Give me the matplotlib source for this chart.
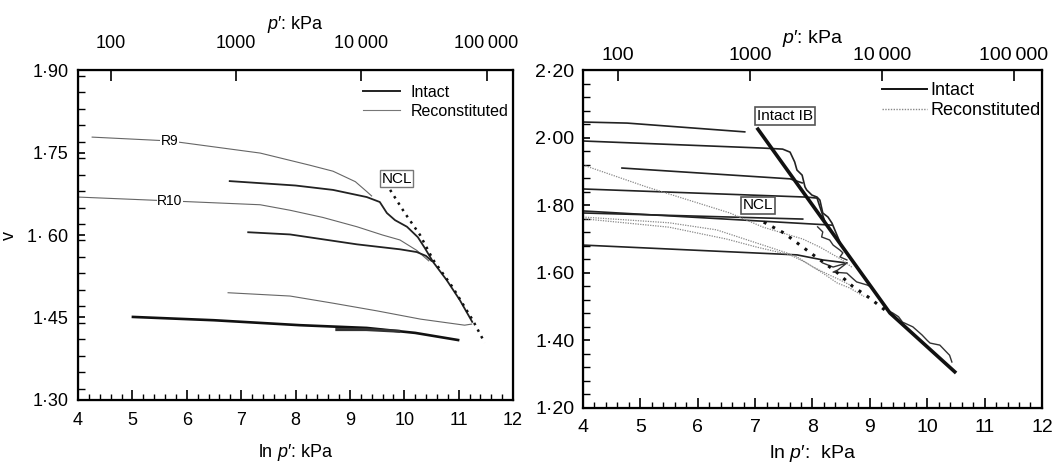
import numpy as np
import matplotlib
matplotlib.use('Agg')
import matplotlib.pyplot as plt
from matplotlib.ticker import MultipleLocator, NullLocator, FixedLocator
from matplotlib.lines import Line2D

plt.rcParams['font.family'] = ['Liberation Sans', 'DejaVu Sans']
plt.rcParams['mathtext.fontset'] = 'custom'
plt.rcParams['mathtext.rm'] = 'Liberation Sans'
plt.rcParams['mathtext.it'] = 'Liberation Sans:italic'

# ---- left panel data (ln p', v) ----
r9_x = [4.26, 5.69, 7.35, 8.26, 8.69, 9.10, 9.31, 9.40]
r9_y = [1.778, 1.771, 1.749, 1.727, 1.716, 1.697, 1.679, 1.671]
r10_x = [4.0, 5.69, 7.35, 7.90, 8.50, 9.13, 9.60, 9.92, 10.23, 10.45]
r10_y = [1.669, 1.662, 1.655, 1.645, 1.632, 1.615, 1.600, 1.591, 1.572, 1.553]
b_x = [6.79, 8.00, 8.69, 9.31, 9.55, 9.68, 9.83, 10.05, 10.25, 10.38, 10.53, 10.78, 11.02, 11.25]
b_y = [1.698, 1.690, 1.682, 1.669, 1.660, 1.640, 1.627, 1.615, 1.596, 1.576, 1.551, 1.518, 1.482, 1.442]
c_x = [7.13, 7.90, 9.13, 9.92, 10.23, 10.40, 10.50]
c_y = [1.605, 1.601, 1.583, 1.574, 1.569, 1.562, 1.553]
d_x = [6.76, 7.90, 8.69, 9.50, 10.30, 11.11, 11.24]
d_y = [1.495, 1.489, 1.476, 1.462, 1.447, 1.436, 1.438]
e_x = [5.01, 6.50, 8.08, 9.31, 10.20, 10.99]
e_y = [1.451, 1.445, 1.436, 1.431, 1.422, 1.409]
f_x = [8.76, 9.30, 9.90]
f_y = [1.428, 1.428, 1.425]
ncl_l_x = [9.74, 10.01, 10.29, 10.53, 10.89, 11.26, 11.48]
ncl_l_y = [1.682, 1.640, 1.600, 1.555, 1.505, 1.445, 1.404]

# ---- right panel data ----
ib_x = [7.05, 9.35, 10.48]
ib_y = [2.025, 1.481, 1.307]
i1_x = [4.03, 4.77, 6.82]
i1_y = [2.046, 2.043, 2.017]
i2_x = [4.0, 7.14, 7.48, 7.61, 7.69, 7.73, 7.82, 7.87, 7.90, 7.99, 8.08, 8.13, 8.18, 8.27, 8.34, 8.50]
i2_y = [1.990, 1.969, 1.966, 1.957, 1.928, 1.904, 1.889, 1.854, 1.845, 1.830, 1.824, 1.815, 1.777, 1.765, 1.747, 1.682]
i3_x = [4.68, 7.61, 7.82]
i3_y = [1.910, 1.878, 1.866]
i4_x = [4.0, 7.90, 8.08, 8.13, 8.22]
i4_y = [1.848, 1.824, 1.821, 1.795, 1.750]
i5_x = [4.0, 8.34]
i5_y = [1.783, 1.741]
i5b_x = [4.0, 7.83]
i5b_y = [1.777, 1.759]
i6_x = [4.0, 7.73, 8.18, 8.60]
i6_y = [1.682, 1.653, 1.638, 1.629]
w1_x = [8.09, 8.18, 8.16, 8.30, 8.36, 8.48, 8.53, 8.48, 8.60]
w1_y = [1.736, 1.721, 1.706, 1.697, 1.682, 1.667, 1.659, 1.647, 1.638]
w2_x = [8.18, 8.36, 8.60, 8.44, 8.36, 8.60, 8.69, 8.77, 8.95, 9.03]
w2_y = [1.629, 1.617, 1.629, 1.608, 1.602, 1.599, 1.585, 1.573, 1.564, 1.558]
w3_x = [9.30, 9.40, 9.50, 9.57, 9.75, 9.85, 9.91, 10.0, 10.05, 10.22, 10.39, 10.43]
w3_y = [1.490, 1.481, 1.470, 1.454, 1.440, 1.425, 1.416, 1.400, 1.392, 1.386, 1.356, 1.336]
ra_x = [4.0, 5.11, 6.56, 7.14, 7.83, 8.13, 8.50, 8.70]
ra_y = [1.919, 1.854, 1.777, 1.735, 1.700, 1.676, 1.640, 1.615]
rb_x = [4.0, 5.50, 6.33, 7.03, 7.55, 7.73, 8.01, 8.30, 8.48, 8.70]
rb_y = [1.765, 1.748, 1.727, 1.688, 1.659, 1.647, 1.617, 1.593, 1.579, 1.560]
rc_x = [4.0, 5.50, 6.50, 7.03, 7.61, 7.90, 8.18, 8.43, 8.65, 8.90]
rc_y = [1.760, 1.735, 1.700, 1.676, 1.653, 1.629, 1.599, 1.570, 1.555, 1.530]
ncl_r_x = [7.15, 7.50, 7.80, 8.10, 8.40, 8.70, 9.00, 9.35]
ncl_r_y = [1.750, 1.718, 1.680, 1.642, 1.605, 1.560, 1.525, 1.478]

top_ticks = [100, 1000, 10000, 100000]
top_labels = ['100', '1000', '10\u2009000', '100\u2009000']
left_yticks = [1.30, 1.45, 1.60, 1.75, 1.90]
left_ylabels = ['1·30', '1·45', '1· 60', '1·75', '1·90']
right_yticks = [1.20, 1.40, 1.60, 1.80, 2.00, 2.20]
right_ylabels = ['1·20', '1·40', '1·60', '1·80', '2·00', '2·20']

fig = plt.figure(figsize=(10.63, 4.70), dpi=100)
ax1 = fig.add_axes([0.0734, 0.149, 0.4092, 0.702])
ax2 = fig.add_axes([0.5484, 0.132, 0.4318, 0.719])

intact_kw = dict(color='#222222', lw=1.3)
recon_kw = dict(color='#666666', lw=0.8)

# left panel
ax1.plot(r9_x, r9_y, **recon_kw)
ax1.plot(r10_x, r10_y, **recon_kw)
ax1.plot(b_x, b_y, **intact_kw)
ax1.plot(c_x, c_y, **intact_kw)
ax1.plot(d_x, d_y, **recon_kw)
ax1.plot(e_x, e_y, color='#111111', lw=1.9)
ax1.plot(f_x, f_y, color='#333333', lw=2.2)
ax1.plot(ncl_l_x, ncl_l_y, color='#111111', lw=1.8, linestyle=(0, (1, 2)))
ax1.text(5.69, 1.771, 'R9', fontsize=10, ha='center', va='center',
         bbox=dict(facecolor='white', edgecolor='none', pad=0.5))
ax1.text(5.69, 1.662, 'R10', fontsize=10, ha='center', va='center',
         bbox=dict(facecolor='white', edgecolor='none', pad=0.5))
ax1.text(9.86, 1.702, 'NCL', fontsize=11, ha='center', va='center',
         bbox=dict(boxstyle='square,pad=0.1', facecolor='white', edgecolor='#777777', lw=1))

ax1.set_xlim(4, 12)
ax1.set_ylim(1.30, 1.90)
ax1.set_yticks(left_yticks)
ax1.set_yticklabels(left_ylabels)
ax1.yaxis.set_minor_locator(MultipleLocator(0.03))
ax1.xaxis.set_major_locator(MultipleLocator(1))
ax1.xaxis.set_minor_locator(MultipleLocator(0.2))
ax1.tick_params(axis='both', which='both', direction='in', top=False, right=False)
ax1.tick_params(axis='x', which='major', length=7, width=1.2, labelsize=13, pad=9)
ax1.tick_params(axis='x', which='minor', length=4, width=1)
ax1.tick_params(axis='y', which='major', length=5, width=1.2, labelsize=13, pad=7)
ax1.tick_params(axis='y', which='minor', length=5, width=1)
ax1.set_xlabel(r"ln $p$′: kPa", fontsize=13, labelpad=9)
ax1.set_ylabel('v', fontsize=13, labelpad=7)
for s in ax1.spines.values():
    s.set_linewidth(1.6)

ax1_top = ax1.twiny()
ax1_top.set_xscale('log')
ax1_top.set_xlim(np.exp(4), np.exp(12))
ax1_top.xaxis.set_major_locator(FixedLocator(top_ticks))
ax1_top.xaxis.set_minor_locator(NullLocator())
ax1_top.set_xticklabels(top_labels)
ax1_top.tick_params(axis='x', direction='in', length=8, width=1.2, labelsize=13, pad=13)
ax1_top.set_xlabel(r"$p$′: kPa", fontsize=13, labelpad=4)

leg1 = ax1.legend(handles=[Line2D([], [], color='#222222', lw=1.4),
                           Line2D([], [], color='#777777', lw=0.8)],
                  labels=['Intact', 'Reconstituted'], loc='upper left',
                  bbox_to_anchor=(0.655, 0.955), frameon=False, fontsize=11.5,
                  borderpad=0, borderaxespad=0, handlelength=2.3,
                  handletextpad=0.7, labelspacing=0.25)

# right panel
thin_int = dict(color='#333333', lw=1.0)
for xs, ys in [(i1_x, i1_y), (i2_x, i2_y), (i3_x, i3_y), (i4_x, i4_y),
               (i5_x, i5_y), (i5b_x, i5b_y), (i6_x, i6_y)]:
    ax2.plot(xs, ys, color='#222222', lw=1.2)
for xs, ys in [(w1_x, w1_y), (w2_x, w2_y), (w3_x, w3_y)]:
    ax2.plot(xs, ys, **thin_int)
for xs, ys in [(ra_x, ra_y), (rb_x, rb_y), (rc_x, rc_y)]:
    ax2.plot(xs, ys, color='#888888', lw=0.9, linestyle=(0, (1, 1)))
ax2.plot(ncl_r_x, ncl_r_y, color='#111111', lw=2.2, linestyle=(0, (1, 2.2)))
ax2.plot(ib_x, ib_y, color='#111111', lw=2.6)
ax2.text(7.52, 2.064, 'Intact IB', fontsize=11, ha='center', va='center',
         bbox=dict(boxstyle='square,pad=0.15', facecolor='white', edgecolor='#555555', lw=1.2))
ax2.text(7.05, 1.80, 'NCL', fontsize=11, ha='center', va='center',
         bbox=dict(boxstyle='square,pad=0.1', facecolor='white', edgecolor='#555555', lw=1.2))

ax2.set_xlim(4, 12)
ax2.set_ylim(1.20, 2.20)
ax2.set_yticks(right_yticks)
ax2.set_yticklabels(right_ylabels)
ax2.yaxis.set_minor_locator(MultipleLocator(0.04))
ax2.xaxis.set_major_locator(MultipleLocator(1))
ax2.xaxis.set_minor_locator(MultipleLocator(0.2))
ax2.tick_params(axis='both', which='both', direction='in', top=False, right=False)
ax2.tick_params(axis='x', which='major', length=7, width=1.2, labelsize=14, pad=8)
ax2.tick_params(axis='x', which='minor', length=4, width=1)
ax2.tick_params(axis='y', which='major', length=5, width=1.2, labelsize=14, pad=6)
ax2.tick_params(axis='y', which='minor', length=5, width=1)
ax2.set_xlabel(r"ln $p$′:  kPa", fontsize=14, labelpad=5)
for s in ax2.spines.values():
    s.set_linewidth(1.6)

ax2_top = ax2.twiny()
ax2_top.set_xscale('log')
ax2_top.set_xlim(np.exp(4), np.exp(12))
ax2_top.xaxis.set_major_locator(FixedLocator(top_ticks))
ax2_top.xaxis.set_minor_locator(NullLocator())
ax2_top.set_xticklabels(top_labels)
ax2_top.tick_params(axis='x', direction='in', length=8, width=1.2, labelsize=14, pad=4)
ax2_top.set_xlabel(r"$p$′: kPa", fontsize=14, labelpad=3)

leg2 = ax2.legend(handles=[Line2D([], [], color='#111111', lw=1.4),
                           Line2D([], [], color='#888888', lw=1.0, linestyle=(0, (1, 1)))],
                  labels=['Intact', 'Reconstituted'], loc='upper left',
                  bbox_to_anchor=(0.651, 0.965), frameon=False, fontsize=13,
                  borderpad=0, borderaxespad=0, handlelength=2.5,
                  handletextpad=0.2, labelspacing=0.2)

fig.savefig('out.png', dpi=100)
